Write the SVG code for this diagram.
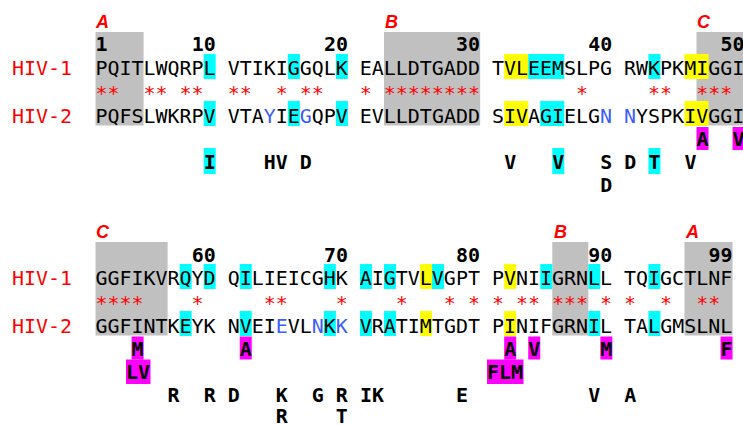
<svg xmlns="http://www.w3.org/2000/svg" width="743" height="425" viewBox="0 0 743 425" xml:space="preserve">
<style>
text{white-space:pre}
.seq{font-family:"DejaVu Sans Mono","Liberation Mono",monospace;font-size:19.97px;fill:#000}
.b{font-weight:bold}
.lab{fill:#ff0000}
.star{fill:#ff0000}
.blue{fill:#3d5cff}
.reg{font-family:"Liberation Sans",Arial,sans-serif;font-size:18px;font-weight:bold;font-style:italic;fill:#ff0000}
.gray{fill:#c0c0c0}
.cy{fill:#00ffff}
.ye{fill:#ffff00}
.mg{fill:#ff00ff}
</style>
<rect width="743" height="425" fill="#ffffff"/>

<g id="block1">
  <g id="b1-regions">
    <rect class="gray" x="95.5" y="32" width="48.08" height="93.5"/>
    <rect class="gray" x="383.98" y="32" width="96.16" height="93.5"/>
    <rect class="gray" x="696.5" y="32" width="46.5" height="93.5"/>
    <text class="reg" x="96" y="27.5">A</text>
    <text class="reg" x="385" y="27.5">B</text>
    <text class="reg" x="697" y="27.5">C</text>
  </g>
  <g id="b1-numbers" class="seq b">
    <text x="95.5" y="51">1</text>
    <text x="191.66" y="51">10</text>
    <text x="323.88" y="51">20</text>
    <text x="456.1" y="51">30</text>
    <text x="588.32" y="51">40</text>
    <text x="720.54" y="51">50</text>
  </g>
  <g id="b1-hiv1">
    <rect class="cy" x="203.68" y="54" width="12.02" height="25"/>
    <rect class="cy" x="287.82" y="54" width="12.02" height="25"/>
    <rect class="cy" x="335.9" y="54" width="12.02" height="25"/>
    <rect class="ye" x="504.18" y="54" width="24.04" height="25"/>
    <rect class="cy" x="528.22" y="54" width="36.06" height="25"/>
    <rect class="cy" x="648.42" y="54" width="12.02" height="25"/>
    <rect class="ye" x="684.48" y="54" width="24.04" height="25"/>
    <text class="seq lab" x="12" y="75">HIV-1</text>
    <text class="seq" x="95.5" y="75" xml:space="preserve">PQITLWQRPL VTIKIGGQLK EALLDTGADD TVLEEMSLPG RWKPKMIGGI</text>
  </g>
  <g id="b1-stars">
    <text class="seq star" x="95.5" y="100" xml:space="preserve">**  ** **  **  * **   * ********        *     **  ***</text>
  </g>
  <g id="b1-hiv2">
    <rect class="cy" x="203.68" y="101" width="12.02" height="25"/>
    <rect class="cy" x="287.82" y="101" width="12.02" height="25"/>
    <rect class="cy" x="335.9" y="101" width="12.02" height="25"/>
    <rect class="ye" x="504.18" y="101" width="24.04" height="25"/>
    <rect class="cy" x="540.24" y="101" width="24.04" height="25"/>
    <rect class="ye" x="684.48" y="101" width="24.04" height="25"/>
    <text class="seq lab" x="12" y="123">HIV-2</text>
    <text class="seq" x="95.5" y="123" xml:space="preserve">PQFSLWKRPV VTA<tspan class="blue">Y</tspan>IE<tspan class="blue">G</tspan>QPV EVLLDTGADD SIVAGIELG<tspan class="blue">N</tspan> <tspan class="blue">N</tspan>YSPKIVGGI</text>
  </g>
  <g id="b1-variants" class="seq b">
    <rect class="mg" x="696.5" y="127" width="12.02" height="23"/>
    <rect class="mg" x="732.56" y="127" width="12.02" height="23"/>
    <text x="696.5" y="146">A</text>
    <text x="732.56" y="146">V</text>
    <rect class="cy" x="203.68" y="148" width="12.02" height="26"/>
    <rect class="cy" x="552.26" y="148" width="12.02" height="26"/>
    <rect class="cy" x="648.42" y="148" width="12.02" height="26"/>
    <text x="203.68" y="169">I</text>
    <text x="263.78" y="169" xml:space="preserve">HV D</text>
    <text x="504.18" y="169">V</text>
    <text x="552.26" y="169">V</text>
    <text x="600.34" y="169" xml:space="preserve">S D T</text>
    <text x="684.48" y="169">V</text>
    <text x="600.34" y="192">D</text>
  </g>
</g>

<g id="block2">
  <g id="b2-regions">
    <rect class="gray" x="95.5" y="242" width="72.12" height="93.5"/>
    <rect class="gray" x="552.26" y="242" width="36.06" height="93.5"/>
    <rect class="gray" x="684.48" y="242" width="48.08" height="93.5"/>
    <text class="reg" x="96" y="237.5">C</text>
    <text class="reg" x="554" y="237.5">B</text>
    <text class="reg" x="686" y="237.5">A</text>
  </g>
  <g id="b2-numbers" class="seq b">
    <text x="191.66" y="262">60</text>
    <text x="323.88" y="262">70</text>
    <text x="456.1" y="262">80</text>
    <text x="588.32" y="262">90</text>
    <text x="708.52" y="262">99</text>
  </g>
  <g id="b2-hiv1">
    <rect class="cy" x="179.64" y="264" width="12.02" height="25"/>
    <rect class="cy" x="203.68" y="264" width="12.02" height="25"/>
    <rect class="cy" x="239.74" y="264" width="12.02" height="25"/>
    <rect class="cy" x="323.88" y="264" width="12.02" height="25"/>
    <rect class="cy" x="359.94" y="264" width="12.02" height="25"/>
    <rect class="cy" x="383.98" y="264" width="12.02" height="25"/>
    <rect class="ye" x="420.04" y="264" width="12.02" height="25"/>
    <rect class="cy" x="432.06" y="264" width="12.02" height="25"/>
    <rect class="ye" x="504.18" y="264" width="12.02" height="25"/>
    <rect class="cy" x="540.24" y="264" width="12.02" height="25"/>
    <rect class="cy" x="588.32" y="264" width="12.02" height="25"/>
    <rect class="cy" x="648.42" y="264" width="12.02" height="25"/>
    <text class="seq lab" x="12" y="285">HIV-1</text>
    <text class="seq" x="95.5" y="285" xml:space="preserve">GGFIKVRQYD QILIEICGHK AIGTVLVGPT PVNIIGRNLL TQIGCTLNF</text>
  </g>
  <g id="b2-stars">
    <text class="seq star" x="95.5" y="310" xml:space="preserve">****    *     **    *    *   * * * ** *** * *  *  **</text>
  </g>
  <g id="b2-hiv2">
    <rect class="cy" x="179.64" y="311" width="12.02" height="25"/>
    <rect class="cy" x="239.74" y="311" width="12.02" height="25"/>
    <rect class="cy" x="323.88" y="311" width="12.02" height="25"/>
    <rect class="cy" x="359.94" y="311" width="12.02" height="25"/>
    <rect class="cy" x="383.98" y="311" width="12.02" height="25"/>
    <rect class="ye" x="420.04" y="311" width="12.02" height="25"/>
    <rect class="ye" x="504.18" y="311" width="12.02" height="25"/>
    <rect class="cy" x="588.32" y="311" width="12.02" height="25"/>
    <rect class="cy" x="648.42" y="311" width="12.02" height="25"/>
    <text class="seq lab" x="12" y="333">HIV-2</text>
    <text class="seq" x="95.5" y="333" xml:space="preserve">GGFINTKEYK NVEI<tspan class="blue">E</tspan>VL<tspan class="blue">N</tspan>K<tspan class="blue">K</tspan> VRATIMTGDT PINIFGRNIL TALGMSLNL</text>
  </g>
  <g id="b2-variants" class="seq b">
    <rect class="mg" x="131.56" y="336.5" width="12.02" height="23"/>
    <rect class="mg" x="239.74" y="336.5" width="12.02" height="23"/>
    <rect class="mg" x="504.18" y="336.5" width="12.02" height="23"/>
    <rect class="mg" x="528.22" y="336.5" width="12.02" height="23"/>
    <rect class="mg" x="600.34" y="336.5" width="12.02" height="23"/>
    <rect class="mg" x="720.54" y="336.5" width="12.02" height="23"/>
    <text x="131.56" y="356">M</text>
    <text x="239.74" y="356">A</text>
    <text x="504.18" y="356" xml:space="preserve">A V</text>
    <text x="600.34" y="356">M</text>
    <text x="720.54" y="356">F</text>
    <rect class="mg" x="126" y="359.5" width="24.5" height="24.5"/>
    <rect class="mg" x="487" y="359.5" width="36.5" height="24.5"/>
    <text x="126" y="379">LV</text>
    <text x="487" y="379">FLM</text>
    <text x="167.62" y="402" xml:space="preserve">R  R D</text>
    <text x="275.8" y="402" xml:space="preserve">K  G R IK</text>
    <text x="456.1" y="402">E</text>
    <text x="588.32" y="402" xml:space="preserve">V  A</text>
    <text x="275.8" y="423" xml:space="preserve">R    T</text>
  </g>
</g>
</svg>
